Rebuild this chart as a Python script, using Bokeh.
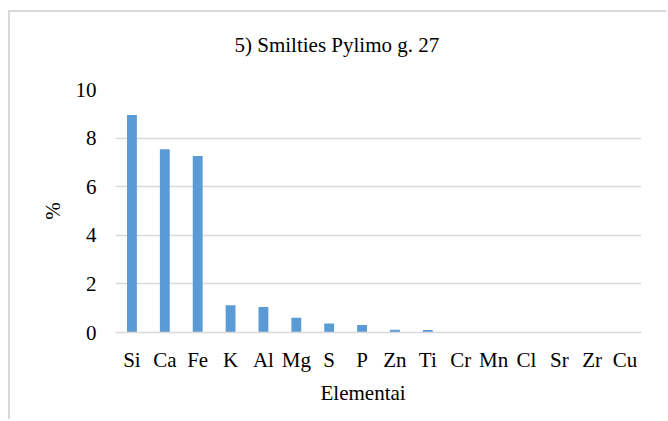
from bokeh.plotting import figure
from bokeh.models import Range1d, Title, FixedTicker
from bokeh.embed import file_html
from bokeh.resources import INLINE

elements = ["Si", "Ca", "Fe", "K", "Al", "Mg", "S", "P", "Zn", "Ti", "Cr", "Mn", "Cl", "Sr", "Zr", "Cu"]
values = [8.95, 7.54, 7.26, 1.12, 1.05, 0.61, 0.37, 0.31, 0.11, 0.10, 0.02, 0.02, 0.01, 0.005, 0.005, 0.004]
y_ticks = [0, 2, 4, 6, 8, 10]
title_text = "5) Smilties Pylimo g. 27"
x_label = "Elementai"
y_label = "%"

FONT = "Liberation Serif"
FS = "21px"

p = figure(width=658, height=409, x_range=elements, y_range=Range1d(0, 10),
           output_backend="svg", toolbar_location=None,
           min_border_left=105, min_border_right=27, min_border_top=77, min_border_bottom=89)
p.styles = {"margin-left": "8px", "margin-top": "10px",
            "border-left": "2px solid #d9d9d9", "border-top": "2px solid #d9d9d9"}
p.background_fill_color = "white"
p.border_fill_color = "white"
p.outline_line_color = None

p.vbar(x=elements, top=values, width=0.3, color="#5b9bd5", line_color=None)

p.xgrid.grid_line_color = None
p.ygrid.grid_line_color = "#d9d9d9"
p.ygrid.grid_line_width = 1.3
p.yaxis.ticker = FixedTicker(ticks=y_ticks)

for ax in (p.xaxis[0], p.yaxis[0]):
    ax.major_tick_line_color = None
    ax.minor_tick_line_color = None
    ax.major_label_text_font = FONT
    ax.major_label_text_font_size = FS
    ax.major_label_text_color = "black"
    ax.axis_label_text_font = FONT
    ax.axis_label_text_font_size = FS
    ax.axis_label_text_font_style = "normal"
    ax.axis_label_text_color = "black"

p.xaxis.axis_line_color = "#d9d9d9"
p.xaxis.axis_line_width = 1.3
p.xaxis.major_label_standoff = 9
p.yaxis.axis_line_color = None
p.yaxis.major_label_standoff = 13
p.yaxis.axis_label = y_label
p.yaxis.axis_label_standoff = 8

# spacer between the plot frame and the chart title
p.add_layout(Title(text=" ", text_font_size="1px", standoff=30), "above")
p.add_layout(Title(text=title_text, text_font=FONT, text_font_size=FS,
                   text_font_style="normal", text_color="black",
                   align="left", offset=119, standoff=0), "above")
p.add_layout(Title(text=x_label, text_font=FONT, text_font_size=FS,
                   text_font_style="normal", text_color="black",
                   align="left", offset=205, standoff=8), "below")

open("out.html", "w").write(file_html(p, INLINE))
